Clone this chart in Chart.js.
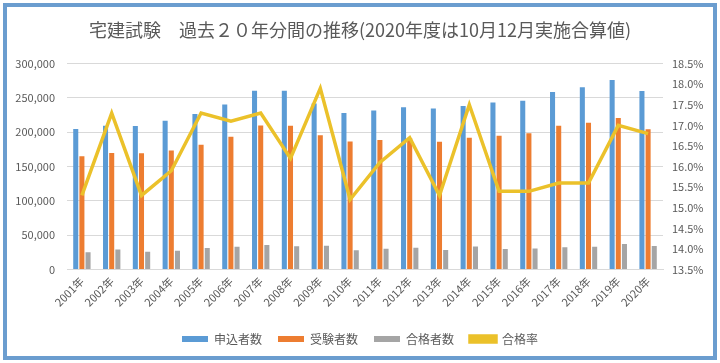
<!DOCTYPE html>
<html lang="ja">
<head>
<meta charset="utf-8">
<title>宅建試験 過去20年分間の推移</title>
<script src="https://cdn.jsdelivr.net/npm/chart.js@4.4.1/dist/chart.umd.min.js"></script>
<style>
    html, body { margin: 0; padding: 0; background: #ffffff; }
    #frame {
        position: absolute;
        left: 3px;
        top: 3px;
        width: 706px;
        height: 349px;
        border: 4px solid #6b9dcf;
        background: #ffffff;
    }
    canvas { display: block; }
</style>
</head>
<body>
<div id="frame"><canvas id="examChart" width="706" height="349"></canvas></div>
<script>
// Data
const years = ['2001年', '2002年', '2003年', '2004年', '2005年', '2006年', '2007年', '2008年', '2009年', '2010年',
               '2011年', '2012年', '2013年', '2014年', '2015年', '2016年', '2017年', '2018年', '2019年', '2020年'];
const applicants = [204629, 209672, 209196, 216830, 226665, 240278, 260633, 260591, 241944, 228214,
                    231596, 236350, 234586, 238343, 243199, 245742, 258511, 265444, 276019, 260074];
const examinees = [165104, 169657, 169625, 173457, 181880, 193573, 209684, 209415, 195515, 186542,
                   188572, 191169, 186304, 192029, 194926, 198463, 209354, 213993, 220797, 204250];
const passers = [25203, 29423, 25942, 27639, 31520, 33191, 35733, 33946, 34918, 28311,
                 30391, 32000, 28470, 33670, 30028, 30589, 32644, 33360, 37481, 34338];
const passRate = [15.3, 17.3, 15.3, 15.9, 17.3, 17.1, 17.3, 16.2, 17.9, 15.2,
                  16.1, 16.7, 15.3, 17.5, 15.4, 15.4, 15.6, 15.6, 17.0, 16.8];

const countTicks = [0, 50000, 100000, 150000, 200000, 250000, 300000];
const rateTicks = [13.5, 14.0, 14.5, 15.0, 15.5, 16.0, 16.5, 17.0, 17.5, 18.0, 18.5];

const textColor = '#595959';
const fontFamily = '"Noto Sans CJK JP", "Noto Sans", sans-serif';

function makeBarDataset(label, data, color) {
    return {
        type: 'bar',
        label: label,
        data: data,
        backgroundColor: color,
        borderColor: color,
        borderWidth: 0,
        yAxisID: 'y',
        order: 1,
        categoryPercentage: 0.62,
        barPercentage: 0.82
    };
}

const ctx = document.getElementById('examChart').getContext('2d');
new Chart(ctx, {
    data: {
        labels: years,
        datasets: [
            makeBarDataset('申込者数', applicants, '#5b9bd5'),
            makeBarDataset('受験者数', examinees, '#ed7d31'),
            makeBarDataset('合格者数', passers, '#a5a5a5'),
            {
                type: 'line',
                label: '合格率',
                data: passRate,
                borderColor: '#ebc12a',
                backgroundColor: '#ebc12a',
                borderWidth: 3.5,
                pointRadius: 0,
                tension: 0,
                yAxisID: 'y1',
                order: 0
            }
        ]
    },
    options: {
        responsive: false,
        animation: false,
        layout: { padding: { left: 0, right: 0, top: 0, bottom: 1 } },
        plugins: {
            title: {
                display: true,
                text: '宅建試験　過去２０年分間の推移(2020年度は10月12月実施合算値)',
                color: textColor,
                font: { family: fontFamily, size: 18, weight: 'normal' },
                padding: { top: 12, bottom: 23 }
            },
            legend: {
                position: 'bottom',
                labels: {
                    color: textColor,
                    font: { family: fontFamily, size: 12 },
                    boxWidth: 26,
                    boxHeight: 6,
                    padding: 16,
                    sort: (a, b) => a.datasetIndex - b.datasetIndex
                }
            },
            tooltip: { enabled: false }
        },
        scales: {
            x: {
                grid: { display: false, drawTicks: false },
                border: { display: true, color: '#d9d9d9' },
                afterFit: scale => { scale.height += 3; },
                ticks: {
                    color: textColor,
                    font: { family: fontFamily, size: 11 },
                    minRotation: 45,
                    maxRotation: 45,
                    padding: 5
                }
            },
            y: {
                position: 'left',
                min: countTicks[0],
                max: countTicks[countTicks.length - 1],
                afterBuildTicks: scale => { scale.ticks = countTicks.map(v => ({ value: v })); },
                afterFit: scale => { scale.width = 60; },
                grid: { color: '#d9d9d9', drawTicks: false },
                border: { display: false },
                ticks: {
                    color: textColor,
                    font: { family: fontFamily, size: 11 },
                    padding: 12,
                    callback: v => v.toLocaleString('en-US')
                }
            },
            y1: {
                position: 'right',
                min: rateTicks[0],
                max: rateTicks[rateTicks.length - 1],
                afterBuildTicks: scale => { scale.ticks = rateTicks.map(v => ({ value: v })); },
                afterFit: scale => { scale.width = 50; },
                grid: { display: false, drawTicks: false },
                border: { display: false },
                ticks: {
                    color: textColor,
                    font: { family: fontFamily, size: 11 },
                    padding: 9,
                    callback: v => v.toFixed(1) + '%'
                }
            }
        }
    }
});
</script>
</body>
</html>
